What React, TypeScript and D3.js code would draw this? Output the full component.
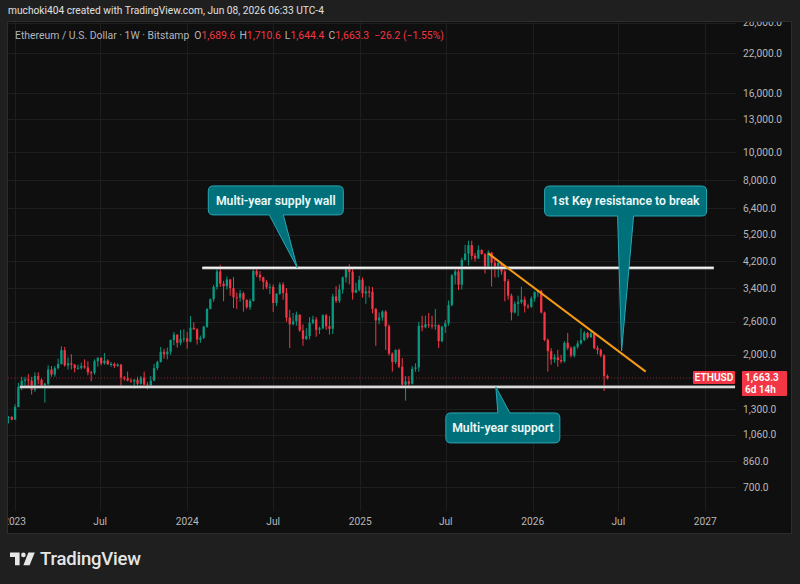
import React from "react";
import * as d3 from "d3";

// ---------- DATA ----------
const firstWeek = "2022-12-19"; // Monday of the first weekly candle
// weekly candles: [open, high, low, close]
const ohlc2022: number[][] = [
  [1215, 1230, 1160, 1220],
  [1220, 1230, 1190, 1196],
];
const ohlc2023: number[][] = [
  [1196, 1350, 1190, 1322], [1322, 1600, 1320, 1552], [1552, 1680, 1510, 1628], [1628, 1680, 1540, 1645],
  [1645, 1715, 1550, 1630], [1630, 1680, 1460, 1515], [1515, 1740, 1490, 1690], [1690, 1740, 1580, 1640],
  [1640, 1660, 1540, 1565], [1565, 1600, 1370, 1590], [1590, 1840, 1570, 1780], [1780, 1830, 1680, 1710],
  [1710, 1830, 1680, 1800], [1800, 1940, 1780, 1860], [1860, 2140, 1850, 2075], [2075, 2130, 1820, 1840],
  [1840, 1960, 1780, 1870], [1870, 2010, 1780, 1850], [1850, 1860, 1740, 1800], [1800, 1850, 1780, 1805],
  [1805, 1880, 1780, 1830], [1830, 1930, 1790, 1810], [1810, 1900, 1700, 1740], [1740, 1760, 1620, 1735],
  [1735, 1930, 1710, 1900], [1900, 1960, 1820, 1955], [1955, 1960, 1840, 1870], [1870, 2030, 1850, 1910],
  [1910, 1930, 1850, 1855], [1855, 1890, 1820, 1860], [1860, 1880, 1800, 1830], [1830, 1870, 1820, 1850],
  [1850, 1860, 1550, 1670], [1670, 1690, 1630, 1660], [1660, 1750, 1620, 1630], [1630, 1660, 1600, 1620],
  [1620, 1650, 1530, 1640], [1640, 1680, 1570, 1590], [1590, 1690, 1580, 1670], [1670, 1750, 1570, 1580],
  [1580, 1610, 1520, 1560], [1560, 1690, 1540, 1630], [1630, 1860, 1620, 1800], [1800, 1910, 1770, 1890],
  [1890, 2130, 1880, 2050], [2050, 2100, 1940, 2010], [2010, 2120, 1930, 2050], [2050, 2260, 2000, 2250],
  [2250, 2400, 2160, 2350], [2350, 2350, 2120, 2200], [2200, 2440, 2160, 2270], [2270, 2450, 2210, 2280],
];
const ohlc2024: number[][] = [
  [2280, 2400, 2100, 2220], [2220, 2720, 2210, 2480], [2480, 2590, 2440, 2450], [2450, 2470, 2170, 2260],
  [2260, 2330, 2200, 2290], [2290, 2520, 2270, 2500], [2500, 2900, 2480, 2880], [2880, 3130, 2870, 3110],
  [3110, 3490, 3050, 3430], [3430, 3960, 3360, 3880], [3880, 4090, 3430, 3520], [3520, 3600, 3060, 3450],
  [3450, 3730, 3360, 3640], [3640, 3650, 3200, 3400], [3400, 3710, 2900, 3160], [3160, 3280, 2880, 3150],
  [3150, 3350, 3050, 3260], [3260, 3300, 2820, 3100], [3100, 3100, 2880, 2920], [2920, 3120, 2860, 3070],
  [3070, 3950, 3050, 3890], [3890, 3970, 3710, 3780], [3780, 3890, 3600, 3700], [3700, 3720, 3360, 3570],
  [3570, 3620, 3370, 3420], [3420, 3520, 3240, 3430], [3430, 3500, 2810, 3020], [3020, 3260, 2950, 3250],
  [3250, 3560, 3220, 3500], [3500, 3560, 3100, 3270], [3270, 3400, 2600, 2690], [2690, 2860, 2110, 2550],
  [2550, 2790, 2530, 2610], [2610, 2820, 2520, 2750], [2750, 2760, 2400, 2430], [2430, 2550, 2150, 2270],
  [2270, 2470, 2250, 2320], [2320, 2700, 2260, 2580], [2580, 2730, 2550, 2650], [2650, 2700, 2310, 2440],
  [2440, 2500, 2360, 2470], [2470, 2760, 2450, 2740], [2740, 2770, 2440, 2510], [2510, 2720, 2350, 2460],
  [2460, 3250, 2360, 3180], [3180, 3450, 3020, 3070], [3070, 3500, 3020, 3360], [3360, 3730, 3250, 3700],
  [3700, 4050, 3550, 3990], [3990, 4110, 3500, 3870], [3870, 4000, 3100, 3280], [3280, 3550, 3270, 3350],
  [3350, 3750, 3310, 3630],
];
const ohlc2025: number[][] = [
  [3630, 3700, 3150, 3260], [3260, 3450, 3000, 3310], [3310, 3450, 3150, 3300], [3300, 3430, 2780, 2880],
  [2880, 2900, 2150, 2630], [2630, 2800, 2550, 2690], [2690, 2850, 2620, 2820], [2820, 2850, 2080, 2510],
  [2510, 2550, 1990, 2020], [2020, 2040, 1750, 1890], [1890, 2090, 1860, 2080], [2080, 2100, 1800, 1820],
  [1820, 1950, 1540, 1580], [1580, 1690, 1390, 1620], [1620, 1690, 1560, 1590], [1590, 1830, 1580, 1790],
  [1790, 1870, 1750, 1810], [1810, 2600, 1750, 2520], [2520, 2730, 2410, 2490], [2490, 2730, 2470, 2550],
  [2550, 2790, 2480, 2530], [2530, 2730, 2460, 2510], [2510, 2880, 2440, 2530], [2530, 2550, 2110, 2230],
  [2230, 2520, 2210, 2500], [2500, 2640, 2380, 2570], [2570, 3080, 2520, 2970], [2970, 3800, 2940, 3760],
  [3760, 3940, 3500, 3880], [3880, 3940, 3350, 3490], [3490, 4330, 3360, 4250], [4250, 4790, 4230, 4470],
  [4470, 4950, 4070, 4780], [4780, 4950, 4260, 4390], [4390, 4490, 4200, 4300], [4300, 4770, 4280, 4600],
  [4600, 4630, 4440, 4450], [4450, 4480, 3820, 4020], [4020, 4590, 4000, 4510], [4510, 4520, 3440, 4150],
  [4150, 4300, 3700, 3980], [3980, 4200, 3700, 4150], [4150, 4120, 3780, 3880], [3880, 3920, 3060, 3590],
  [3590, 3650, 3100, 3200], [3200, 3250, 2630, 2800], [2800, 3060, 2780, 3000], [3000, 3200, 2720, 3040],
  [3040, 3440, 3000, 3100], [3100, 3180, 2800, 2950], [2950, 3000, 2880, 2930], [2930, 3180, 2900, 3130],
];
const ohlc2026: number[][] = [
  [3130, 3310, 3050, 3290], [3290, 3340, 3170, 3330], [3330, 3350, 2780, 2800], [2800, 2820, 2230, 2250],
  [2250, 2280, 1750, 2060], [2060, 2110, 1850, 1930], [1930, 2010, 1880, 1960], [1960, 2080, 1820, 1920],
  [1920, 2000, 1870, 1900], [1900, 2230, 1880, 2200], [2200, 2380, 2080, 2110], [2110, 2140, 1960, 1990],
  [1990, 2150, 1960, 2130], [2130, 2240, 2100, 2190], [2190, 2470, 2170, 2250], [2250, 2420, 2230, 2380],
  [2380, 2400, 2270, 2300], [2300, 2410, 2290, 2370], [2370, 2385, 2090, 2110], [2110, 2150, 2010, 2080],
  [2080, 2100, 1960, 1990], [1990, 2010, 1500, 1689.6], [1689.6, 1710.6, 1644.4, 1663.3],
];

const priceTicks = [28000, 22000, 16000, 13000, 10000, 8000, 6400, 5200, 4200, 3400, 2600, 2000, 1300, 1060, 860, 700];
const timeTickDates = ["2023-01-01", "2023-07-01", "2024-01-01", "2024-07-01", "2025-01-01", "2025-07-01", "2026-01-01", "2026-07-01", "2027-01-01"];
const timeTickLabels = ["2023", "Jul", "2024", "Jul", "2025", "Jul", "2026", "Jul", "2027"];

const supplyWall = { price: 3990, from: "2024-02-02", to: "2027-01-19" };
const supportLevel = { price: 1550, from: "2023-01-12", to: "2027-03-05" };
const trendStart = { date: "2025-09-29", price: 4480 };
const trendEnd = { date: "2026-08-28", price: 1750 };
const lastPrice = 1663.3;
const lastPriceText = "1,663.3";
const countdownText = "6d 14h";
const symbolText = "ETHUSD";

const headerText = "muchoki404 created with TradingView.com, Jun 08, 2026 06:33 UTC-4";
const legendTitle = "Ethereum / U.S. Dollar · 1W · Bitstamp";
const legendKeys = ["O", "H", "L", "C"];
const legendVals = ["1,689.6", "1,710.6", "1,644.4", "1,663.3"];
const legendChange = "−26.2 (−1.55%)";

const calloutTexts = ["Multi-year supply wall", "1st Key resistance to break", "Multi-year support"];
const calloutDates = ["2024-08-21", "2026-07-08", "2025-10-15"];
const calloutPrices = [3990, 2062, 1550];

// ---------- LAYOUT ----------
const W = 800, H = 584;
const PL = 8, PR = 736, PT = 22, PB = 508;
const FRAME_R = 791, FRAME_B = 533;
const UP = "#089981", DOWN = "#f23645";
const FONT = "Roboto, 'Noto Sans', sans-serif";
// callout box geometry relative to tip: [x0, x1, y0, y1, tailA, tailB, side]
const calloutLayout: [number, number, number, number, number, number, string][] = [
  [-89, 46, -82, -53, -28, -14, "bottom"],
  [-77, 85, -165, -135, -4, 12, "bottom"],
  [-50, 64, 26, 56, 2, 14, "top"],
];

const d = (s: string) => new Date(s + "T00:00:00Z");

function calloutPath(x0: number, x1: number, y0: number, y1: number, a: number, b: number, tx: number, ty: number, side: string) {
  const r = 5;
  if (side === "bottom") {
    return `M${x0 + r},${y0} H${x1 - r} Q${x1},${y0} ${x1},${y0 + r} V${y1 - r} Q${x1},${y1} ${x1 - r},${y1} H${b} L${tx},${ty} L${a},${y1} H${x0 + r} Q${x0},${y1} ${x0},${y1 - r} V${y0 + r} Q${x0},${y0} ${x0 + r},${y0} Z`;
  }
  return `M${x0 + r},${y0} H${a} L${tx},${ty} L${b},${y0} H${x1 - r} Q${x1},${y0} ${x1},${y0 + r} V${y1 - r} Q${x1},${y1} ${x1 - r},${y1} H${x0 + r} Q${x0},${y1} ${x0},${y1 - r} V${y0 + r} Q${x0},${y0} ${x0 + r},${y0} Z`;
}

export default function App() {
  const x = d3.scaleUtc().domain([d("2022-12-18"), d("2027-03-07")]).range([PL, PR]);
  const y = d3.scaleLog().domain([700, 22000]).range([487, 53]);
  const all = [...ohlc2022, ...ohlc2023, ...ohlc2024, ...ohlc2025, ...ohlc2026];
  const start = d(firstWeek);
  const candles = all.map((c, i) => ({ date: d3.utcDay.offset(start, 7 * i), o: c[0], h: c[1], l: c[2], c: c[3] }));
  const bw = 2.3;
  const fmt = d3.format(",.1f");
  const yLast = y(lastPrice);
  const line = d3.line<[number, number]>().x((p) => p[0]).y((p) => p[1]);

  return (
    <div style={{ position: "fixed", left: 0, top: 0, width: W, height: H }}>
      <svg width={W} height={H} style={{ display: "block", fontFamily: FONT }}>
        <defs>
          <clipPath id="plot"><rect x={PL} y={PT} width={PR - PL} height={PB - PT} /></clipPath>
          <clipPath id="frame"><rect x={PL} y={PT} width={FRAME_R - PL} height={FRAME_B - PT} /></clipPath>
        </defs>
        <rect x={0} y={0} width={W} height={H} fill="#1f1f1f" />
        <rect x={PL - 0.5} y={PT - 0.5} width={FRAME_R - PL + 1} height={FRAME_B - PT + 1} fill="#0f0f0f" stroke="#2c2c2c" />
        <text x={8} y={14} fontSize={10.2} fill="#e0e0e0">{headerText}</text>

        {/* grid */}
        <g clipPath="url(#plot)">
          {priceTicks.map((t) => (
            <line key={"h" + t} x1={PL} x2={PR} y1={Math.round(y(t)) + 0.5} y2={Math.round(y(t)) + 0.5} stroke="#1e1e1e" />
          ))}
        </g>
        <g clipPath="url(#frame)">
          {timeTickDates.map((t) => (
            <line key={"v" + t} x1={Math.round(x(d(t))) + 0.5} x2={Math.round(x(d(t))) + 0.5} y1={PT} y2={PB + 3} stroke="#1e1e1e" />
          ))}
        </g>

        {/* legend */}
        <text x={15} y={38.5} fontSize={10.4} fill="#b2b5be">
          <tspan>{legendTitle}</tspan>
          {legendKeys.map((k, i) => (
            <React.Fragment key={k}>
              <tspan dx={i === 0 ? 5 : 4}>{k}</tspan>
              <tspan fill={DOWN}>{legendVals[i]}</tspan>
            </React.Fragment>
          ))}
          <tspan dx={5} fill={DOWN}>{legendChange}</tspan>
        </text>

        <g clipPath="url(#plot)">
          {/* candles */}
          {candles.map((c, i) => {
            const cx = x(c.date);
            const col = c.c >= c.o ? UP : DOWN;
            const top = y(Math.max(c.o, c.c));
            const bot = y(Math.min(c.o, c.c));
            return (
              <g key={i}>
                <line x1={cx} x2={cx} y1={y(c.h)} y2={y(c.l)} stroke={col} strokeWidth={1} />
                <rect x={cx - bw / 2} y={top} width={bw} height={Math.max(1, bot - top)} fill={col} />
              </g>
            );
          })}
          {/* current price dotted line */}
          <line x1={PL} x2={693} y1={yLast} y2={yLast} stroke={DOWN} strokeOpacity={0.55} strokeDasharray="1 2" />
          {/* horizontal levels */}
          {[supplyWall, supportLevel].map((lv, i) => (
            <g key={"lv" + i}>
              <line x1={x(d(lv.from))} x2={x(d(lv.to))} y1={y(lv.price)} y2={y(lv.price)} stroke="#8a8a8a" strokeWidth={3.2} />
              <line x1={x(d(lv.from))} x2={x(d(lv.to))} y1={y(lv.price)} y2={y(lv.price)} stroke="#f4f4f4" strokeWidth={1.6} />
            </g>
          ))}
          {/* trend line */}
          <path
            d={line([[x(d(trendStart.date)), y(trendStart.price)], [x(d(trendEnd.date)), y(trendEnd.price)]]) || ""}
            stroke="#f39a17" strokeWidth={2} fill="none"
          />
          {/* callouts */}
          {calloutTexts.map((t, i) => {
            const tx = x(d(calloutDates[i]));
            const ty = y(calloutPrices[i]);
            const [a0, a1, b0, b1, ta, tb, side] = calloutLayout[i];
            const p = calloutPath(tx + a0, tx + a1, ty + b0, ty + b1, tx + ta, tx + tb, tx, ty, side);
            return (
              <g key={"c" + i}>
                <path d={p} fill="#00707b" stroke="#2aa6b3" strokeWidth={1} />
                <text x={tx + (a0 + a1) / 2} y={ty + (b0 + b1) / 2} dy="0.35em" textAnchor="middle" fontSize={12.2} fontWeight={600} fill="#eef8f8">{t}</text>
              </g>
            );
          })}
        </g>

        {/* price axis */}
        <g clipPath="url(#frame)">
          {priceTicks.map((t) => (
            <text key={"pl" + t} x={743} y={y(t)} dy="0.35em" fontSize={10.2} fill="#b8b8b8">{fmt(t)}</text>
          ))}
          {timeTickDates.map((t, i) => (
            <text key={"tl" + t} x={x(d(t))} y={521} dy="0.35em" textAnchor="middle" fontSize={10.2} fill="#b8b8b8">{timeTickLabels[i]}</text>
          ))}
        </g>

        {/* symbol + last price labels */}
        <rect x={693} y={yLast - 7} width={42} height={13} fill={DOWN} rx={1} />
        <text x={714} y={yLast - 0.5} dy="0.35em" textAnchor="middle" fontSize={10.2} fontWeight={600} fill="#ffffff">{symbolText}</text>
        <rect x={742} y={yLast - 7} width={45} height={25} fill={DOWN} rx={1} />
        <text x={745} y={yLast - 0.5} dy="0.35em" fontSize={10} fontWeight={600} fill="#ffffff">{lastPriceText}</text>
        <text x={745} y={yLast + 11.5} dy="0.35em" fontSize={10} fontWeight={600} fill="#ffffff">{countdownText}</text>

        {/* TradingView logo */}
        <g fill="#e6e6e6">
          <path d="M10,552.5 H19.6 V565.2 H15 V557 H10 Z" />
          <circle cx={23.4} cy={554.9} r={2.3} />
          <path d="M28.4,552.5 H34.8 L29.6,565.2 H23.4 Z" />
          <text x={40} y={565} fontSize={18.5} fontWeight={500} letterSpacing={-0.2}>TradingView</text>
        </g>
      </svg>
    </div>
  );
}
